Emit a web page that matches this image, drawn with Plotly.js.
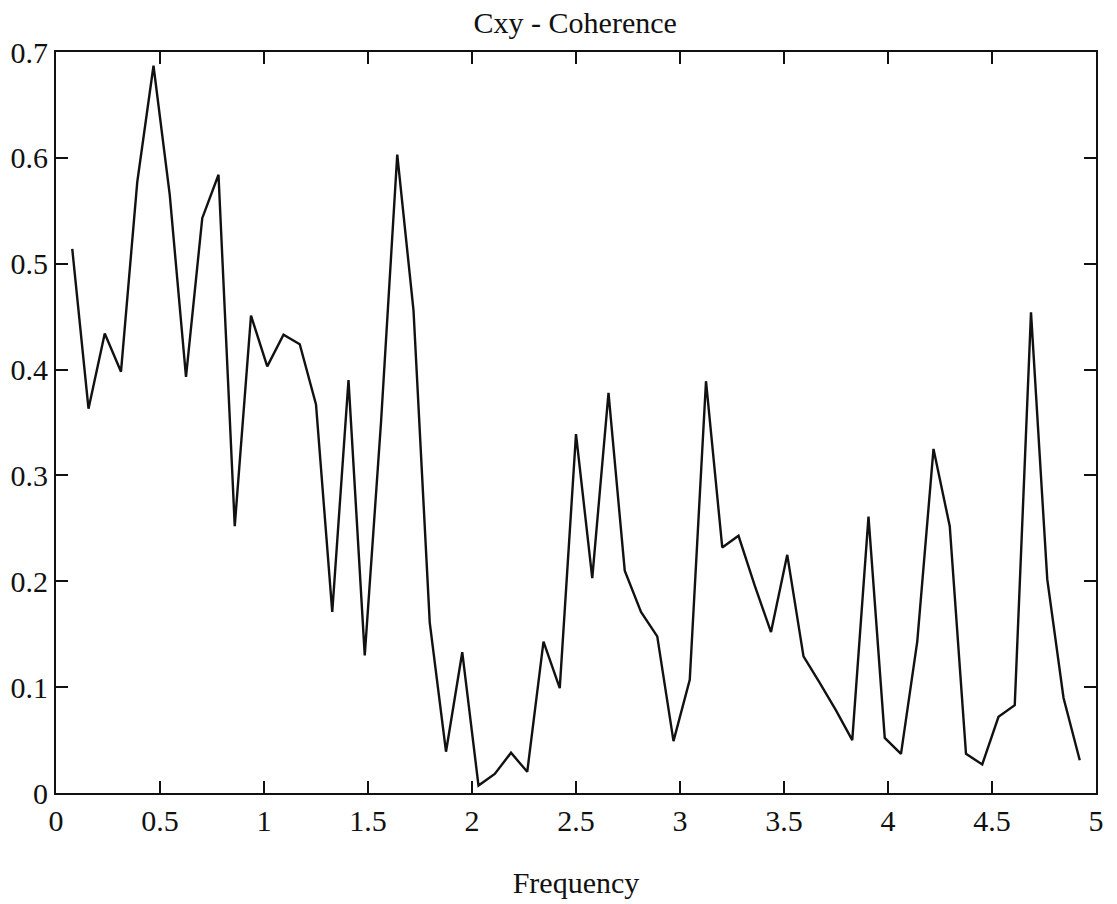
<!DOCTYPE html>
<html>
<head>
<meta charset="utf-8">
<script src="https://cdn.plot.ly/plotly-3.0.1.min.js"></script>
<style>
  html, body { margin: 0; padding: 0; background: #fff; }
  #chart { width: 1117px; height: 904px; }
</style>
</head>
<body>
<div id="chart"></div>
<script>
// Frequency bins (Hz) of the coherence estimate
const frequency = [
  0.078125, 0.15625, 0.234375, 0.3125, 0.390625, 0.46875, 0.546875, 0.625,
  0.703125, 0.78125, 0.859375, 0.9375, 1.015625, 1.09375, 1.171875, 1.25,
  1.328125, 1.40625, 1.484375, 1.5625, 1.640625, 1.71875, 1.796875, 1.875,
  1.953125, 2.03125, 2.109375, 2.1875, 2.265625, 2.34375, 2.421875, 2.5,
  2.578125, 2.65625, 2.734375, 2.8125, 2.890625, 2.96875, 3.046875, 3.125,
  3.203125, 3.28125, 3.359375, 3.4375, 3.515625, 3.59375, 3.671875, 3.75,
  3.828125, 3.90625, 3.984375, 4.0625, 4.140625, 4.21875, 4.296875, 4.375,
  4.453125, 4.53125, 4.609375, 4.6875, 4.765625, 4.84375, 4.921875
];

// Magnitude-squared coherence Cxy at each bin
const coherence = [
  0.514, 0.363, 0.434, 0.398, 0.577, 0.687, 0.565, 0.393,
  0.543, 0.584, 0.252, 0.451, 0.403, 0.433, 0.424, 0.367,
  0.171, 0.390, 0.130, 0.350, 0.603, 0.456, 0.161, 0.039,
  0.133, 0.007, 0.018, 0.038, 0.020, 0.143, 0.099, 0.339,
  0.203, 0.378, 0.210, 0.171, 0.148, 0.049, 0.107, 0.389,
  0.232, 0.243, 0.196, 0.152, 0.225, 0.129, 0.104, 0.078,
  0.050, 0.261, 0.052, 0.037, 0.143, 0.325, 0.252, 0.037,
  0.027, 0.072, 0.083, 0.454, 0.202, 0.090, 0.031
];

const xTicks = [0, 0.5, 1, 1.5, 2, 2.5, 3, 3.5, 4, 4.5, 5];
const xTickText = ['0', '0.5', '1', '1.5', '2', '2.5', '3', '3.5', '4', '4.5', '5'];
const yTicks = [0, 0.1, 0.2, 0.3, 0.4, 0.5, 0.6, 0.7];
const yTickText = ['0', '0.1', '0.2', '0.3', '0.4', '0.5', '0.6', '0.7'];

const serif = 'Liberation Serif, "Times New Roman", serif';

const trace = {
  x: frequency,
  y: coherence,
  type: 'scatter',
  mode: 'lines',
  line: { color: '#111', width: 2.4 },
  hoverinfo: 'x+y'
};

const axisCommon = {
  showgrid: false,
  zeroline: false,
  showline: true,
  linecolor: '#111',
  linewidth: 2,
  mirror: 'ticks',
  ticks: 'inside',
  ticklen: 12,
  tickwidth: 2,
  tickcolor: '#111',
  tickfont: { family: serif, size: 30, color: '#111' }
};

const layout = {
  width: 1117,
  height: 904,
  paper_bgcolor: '#fff',
  plot_bgcolor: '#fff',
  showlegend: false,
  margin: { l: 56, r: 21, t: 52, b: 111 },
  title: {
    text: 'Cxy - Coherence',
    font: { family: serif, size: 30, color: '#111' },
    x: 0.515, xref: 'container', xanchor: 'center',
    y: 0.975, yref: 'container', yanchor: 'middle'
  },
  xaxis: Object.assign({}, axisCommon, {
    range: [0, 5],
    tickmode: 'array',
    tickvals: xTicks,
    ticktext: xTickText,
    title: {
      text: 'Frequency',
      font: { family: serif, size: 30, color: '#111' },
      standoff: 36
    },
    automargin: false
  }),
  yaxis: Object.assign({}, axisCommon, {
    range: [0, 0.7],
    tickmode: 'array',
    tickvals: yTicks,
    ticktext: yTickText,
    automargin: false
  })
};

Plotly.newPlot('chart', [trace], layout, { displayModeBar: false, staticPlot: true });
</script>
</body>
</html>
